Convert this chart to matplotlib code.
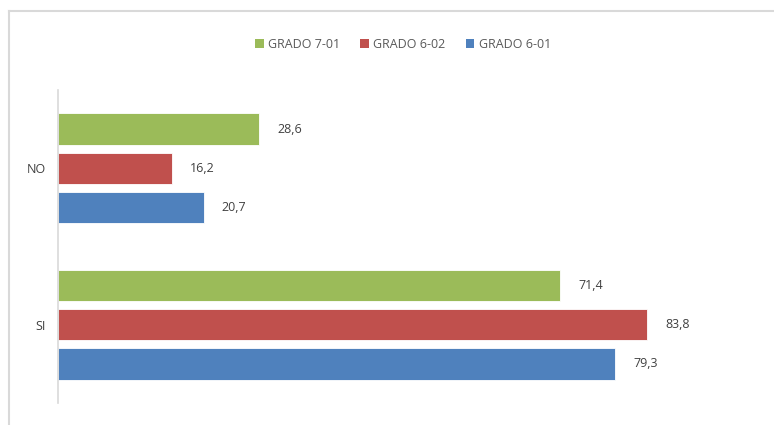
import matplotlib.pyplot as plt
from matplotlib.lines import Line2D
from matplotlib.patches import Patch

plt.rcParams['font.family'] = ['Open Sans', 'DejaVu Sans']

categories = ['SI', 'NO']
series_names = ['GRADO 6-01', 'GRADO 6-02', 'GRADO 7-01']
values = {
    'GRADO 6-01': [79.3, 20.7],
    'GRADO 6-02': [83.8, 16.2],
    'GRADO 7-01': [71.4, 28.6],
}
colors = {
    'GRADO 6-01': '#4F81BD',
    'GRADO 6-02': '#C0504D',
    'GRADO 7-01': '#9BBB59',
}

fig = plt.figure(figsize=(7.74, 4.25), dpi=100)
ax = fig.add_axes([58 / 774, 22 / 425, 703 / 774, 313 / 425])

text_color = '#404040'
offsets = [-0.25, 0.0, 0.25]
bar_h = 0.2
for name, off in zip(series_names, offsets):
    ys = [i + off for i in range(len(categories))]
    bars = ax.barh(ys, values[name], height=bar_h, color=colors[name],
                   edgecolor='white', linewidth=0.6)
    for rect, v in zip(bars, values[name]):
        ax.annotate(f'{v:.1f}'.replace('.', ','),
                    (rect.get_width(), rect.get_y() + rect.get_height() / 2),
                    xytext=(13, 0), textcoords='offset points',
                    ha='left', va='center', fontsize=9, color=text_color)

ax.set_xlim(0, 100)
ax.set_ylim(-0.5, 1.5)
ax.set_yticks(range(len(categories)))
ax.set_yticklabels(categories, fontsize=9, color=text_color)
ax.tick_params(axis='y', length=0, pad=9)
ax.set_xticks([])
for side in ['top', 'right', 'bottom']:
    ax.spines[side].set_visible(False)
ax.spines['left'].set_color('#D9D9D9')
ax.spines['left'].set_linewidth(1.2)

# legend, top series first
handles = [Patch(facecolor=colors[n]) for n in reversed(series_names)]
fig.legend(handles, list(reversed(series_names)), loc='center',
           bbox_to_anchor=(403 / 774, 1 - 44 / 425), ncol=3, frameon=False,
           fontsize=9, labelcolor='#595959', handlelength=0.7, handleheight=0.7,
           handletextpad=0.35, columnspacing=1.6)

# outer chart border (partly cropped)
fig.add_artist(Line2D([8.5 / 774, 1], [1 - 11 / 425] * 2, color='#D9D9D9', lw=1.5,
                      transform=fig.transFigure))
fig.add_artist(Line2D([8.5 / 774] * 2, [0, 1 - 11 / 425], color='#D9D9D9', lw=1.5,
                      transform=fig.transFigure))

fig.savefig('out.png', dpi=100)
